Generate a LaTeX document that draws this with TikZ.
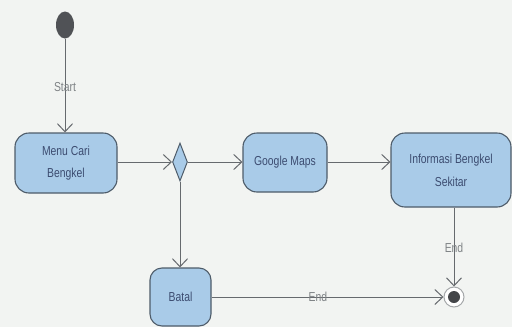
\documentclass[tikz,border=0pt]{standalone}
\usepackage{fontspec}
\setmainfont[FakeStretch=0.8]{Liberation Sans}
\usetikzlibrary{arrows.meta,shapes.geometric}
\definecolor{bg}{HTML}{F2F4F2}
\definecolor{boxfill}{HTML}{A9CBE8}
\definecolor{boxline}{HTML}{4E5C6A}
\definecolor{boxtext}{HTML}{3C4C70}
\definecolor{flow}{HTML}{666A6E}
\definecolor{lbl}{HTML}{7F8386}
\definecolor{dot}{HTML}{505256}
\begin{document}
\begin{tikzpicture}[x=1pt,y=-1pt,
  activity/.style={draw=boxline,line width=1.1pt,fill=boxfill,rounded corners=14pt,
    text=boxtext,font=\fontsize{13}{15}\selectfont,align=center,inner sep=0pt},
  choice/.style={draw=boxline,line width=1pt,fill=boxfill,diamond,inner sep=0pt,
    minimum width=15pt,minimum height=38pt},
  flowline/.style={draw=flow,line width=1pt,-{Straight Barb[length=8pt,width=15pt,line width=1pt]}},
  flowlabel/.style={text=lbl,font=\fontsize{13}{15}\selectfont,inner sep=0pt}]
\useasboundingbox[fill=bg] (0,0) rectangle (512,327);
% initial and final states
\node[ellipse,fill=dot,minimum width=18pt,minimum height=27pt,inner sep=0pt] (start) at (65,25) {};
\node[circle,draw=lbl!70,line width=1pt,fill=white,minimum size=20pt,inner sep=0pt] (fin) at (454,297) {};
\node[circle,fill=dot!85!black,minimum size=12pt,inner sep=0pt] at (fin) {};
% activities
\node[activity,minimum width=102pt,minimum height=60pt] (menu) at (66,163) {Menu Cari\\[7pt]Bengkel};
\node[choice] (dec) at (180,162) {};
\node[activity,minimum width=84pt,minimum height=59pt] (maps) at (285,162.5) {Google Maps};
\node[activity,minimum width=120pt,minimum height=74pt] (info) at (451,170) {Informasi Bengkel\\[8pt]Sekitar};
\node[activity,rounded corners=12pt,minimum width=61pt,minimum height=58pt] (batal) at (180.5,297) {Batal};
% transitions
\draw[flowline] (start) -- (menu.north -| start);
\node[flowlabel] at (65,87) {Start};
\draw[flowline] (menu.east |- dec) -- (dec.west);
\draw[flowline] (dec.east) -- (maps.west |- dec);
\draw[flowline] (maps.east |- dec) -- (info.west |- dec);
\draw[flowline] (dec.south) -- (batal.north -| dec);
\draw[flowline] (info.south -| fin) -- (fin.north);
\node[flowlabel] at (454,248) {End};
\draw[flowline] (batal.east) -- (fin.west);
\node[flowlabel] at (318,297) {End};
\end{tikzpicture}
\end{document}
